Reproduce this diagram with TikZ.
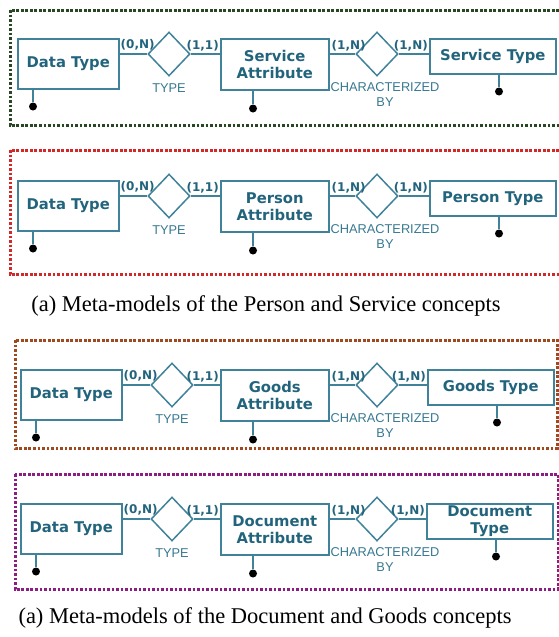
\documentclass[tikz,border=0pt]{standalone}
\usepackage{fontspec}
\setmainfont{Liberation Serif}
\newfontfamily\entfont{DejaVu Sans}
\newfontfamily\relfont{Liberation Sans}
\usetikzlibrary{shapes.geometric,calc}

\definecolor{erline}{RGB}{65,130,155}
\definecolor{ertext}{RGB}{35,100,125}
\definecolor{rellab}{RGB}{55,120,145}
\definecolor{frameA}{RGB}{40,72,35}
\definecolor{frameB}{RGB}{210,40,40}
\definecolor{frameC}{RGB}{160,72,30}
\definecolor{frameD}{RGB}{140,30,130}

\tikzset{
  entity/.style={draw=erline, line width=1.5pt, inner sep=0pt, align=center,
    anchor=north west, text=ertext,
    font=\entfont\bfseries\fontsize{14.8}{17}\selectfont},
  rel/.style={diamond, draw=erline, line width=1.5pt, minimum width=42pt,
    minimum height=44pt, inner sep=0pt},
  card/.style={text=ertext, inner sep=0pt,
    font=\entfont\bfseries\fontsize{12}{13}\selectfont},
  rellabel/.style={text=rellab, inner sep=0pt, align=center, anchor=north,
    font=\relfont\fontsize{12.8}{15}\selectfont},
  link/.style={draw=erline, line width=1.6pt},
  keydot/.style={circle, fill=black, minimum size=8pt, inner sep=0pt},
  frame/.style={line width=3pt, dash pattern=on 2.6pt off 1.9pt},
  caption/.style={inner sep=0pt, anchor=base, font=\fontsize{22.5}{24}\selectfont}
}

% One ER row: #1 name prefix, #2 top of the boxes, #3 shift of the left part,
% #4 shift of the type box, #5 attribute text, #6 type text
\newcommand\erpanel[6]{%
  \node[entity, minimum width=101pt, minimum height=50pt] (#1dt) at (17+#3,#2) {Data Type};
  \node[rel] (#1rt) at (169+#3,#2+16) {};
  \node[entity, minimum width=108pt, minimum height=51pt] (#1at) at (220,#2) {#5};
  \node[rel] (#1rc) at (377,#2+16) {};
  \node[entity, minimum width=126pt, minimum height=35pt] (#1ty) at (429+#4,#2) {#6};
  % relationship links
  \draw[link] (#1rt.west -| #1dt.east) -- (#1rt.west);
  \draw[link] (#1rt.east) -- (#1rt.east -| #1at.west);
  \draw[link] (#1rc.west -| #1at.east) -- (#1rc.west);
  \draw[link] (#1rc.east) -- (#1rc.east -| #1ty.west);
  % cardinalities
  \node[card, anchor=south west] (#1c1) at ($(#1rt.west -| #1dt.east)+(1,-4)$) {(0,N)};
  \node[card, anchor=south east] (#1c2) at ($(#1rt.east -| #1at.west)+(-1,-3)$) {(1,1)};
  \node[card, anchor=south west] (#1c3) at ($(#1rc.west -| #1at.east)+(2,-3)$) {(1,N)};
  \node[card, anchor=south east] (#1c4) at ($(#1rc.east -| #1ty.west)+(-1,-3)$) {(1,N)};
  % relationship names
  \node[rellabel] (#1lt) at ($(#1rt.south)+(0,7)$) {TYPE};
  \node[rellabel] (#1lc) at ($(#1rc.south)+(8,6)$) {CHARACTERIZED\\BY};
  % identifiers
  \node[keydot] (#1kd) at ($(#1dt.south west)+(16,17)$) {};
  \node[keydot] (#1ka) at ($(#1at.south west)+(33,18)$) {};
  \node[keydot] (#1kt) at ($(#1ty.south west)+(70,17)$) {};
  \draw[link] (#1kd) -- (#1kd |- #1dt.south);
  \draw[link] (#1ka) -- (#1ka |- #1at.south);
  \draw[link] (#1kt) -- (#1kt |- #1ty.south);
}

\begin{document}
\begin{tikzpicture}[x=1pt, y=-1pt]
  \useasboundingbox (0,0) rectangle (559,637);

  % Service
  \draw[frame, frameA] (10,10) rectangle (561,125);
  \erpanel{s}{38}{0}{0}{Service\\Attribute}{Service Type}

  % Person
  \draw[frame, frameB] (10,150) rectangle (561,274);
  \erpanel{p}{180}{0}{0}{Person\\Attribute}{Person Type}

  \node[caption] (cap1) at (266,311) {(a) Meta-models of the Person and Service concepts};

  % Goods
  \draw[frame, frameC] (15,340) rectangle (557,448);
  \erpanel{g}{369}{3}{-2}{Goods\\Attribute}{Goods Type}

  % Document
  \draw[frame, frameD] (15,474) rectangle (558,589);
  \erpanel{d}{503}{3}{-3}{Document\\Attribute}{Document\\Type}

  \node[caption] (cap2) at (265,623) {(a) Meta-models of the Document and Goods concepts};
\end{tikzpicture}
\end{document}
